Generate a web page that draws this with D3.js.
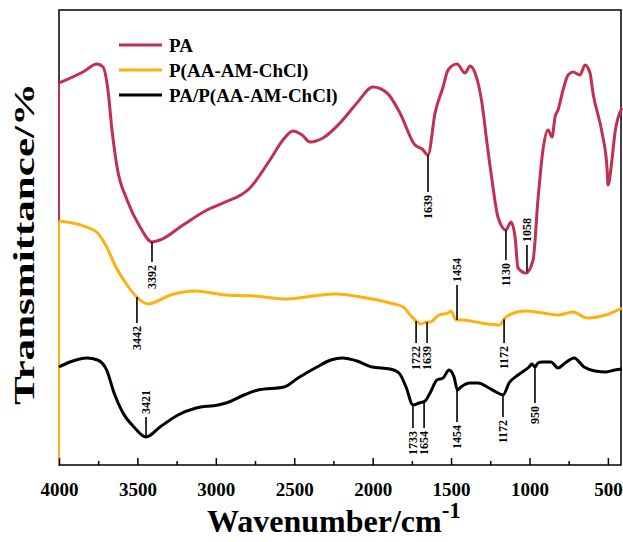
<!DOCTYPE html>
<html lang="en">
<head>
<meta charset="UTF-8"/>
<script src="https://d3js.org/d3.v7.min.js"></script>
<title>FTIR spectra</title>
<style>
  body { margin: 0; background: #fff; }
  svg { display: block; }
  .axis text { font-family: "Liberation Serif", "Times New Roman", serif; font-weight: bold; font-size: 19px; fill: #000; }
  .axis line { stroke: #000; stroke-width: 1.5; }
  .peak text { font-family: "Liberation Serif", "Times New Roman", serif; font-weight: bold; font-size: 12px; fill: #000; }
</style>
</head>
<body>
<script type="text/javascript">
// series names, shown in the legend
var seriesNames = ["PA", "P(AA-AM-ChCl)", "PA/P(AA-AM-ChCl)"];
var seriesColors = ["#c1304f", "#ffb00f", "#000000"];

// spectra: [wavenumber, transmittance (offset, arb. units)]
var paValues = [
  [4000,76.4],[3847,78.6],[3758,80.2],[3719,79.6],[3688,75.0],[3662,67.0],[3630,59.6],
  [3566,53.0],[3483,47.6],[3407,44.6],[3356,45.0],[3209,48.0],[3056,51.0],[2954,52.4],
  [2782,55.4],[2655,61.0],[2572,65.0],[2508,66.8],[2450,66.0],[2399,64.6],[2317,65.4],
  [2208,68.4],[2100,72.4],[1998,75.6],[1908,74.4],[1826,70.4],[1730,64.0],[1685,63.2],
  [1647,62.0],[1602,70.4],[1551,75.6],[1519,79.0],[1462,80.2],[1411,78.4],[1379,79.8],
  [1347,78.4],[1303,72.4],[1271,64.4],[1239,57.0],[1201,49.6],[1150,47.0],[1118,48.6],
  [1092,45.6],[1073,39.4],[1022,38.4],[977,41.0],[946,53.0],[914,63.0],[882,67.0],
  [856,65.6],[837,69.6],[818,71.0],[786,75.0],[754,78.0],[722,78.6],[678,78.0],
  [646,80.0],[614,78.4],[595,74.4],[537,66.4],[506,59.6],[499,56.0],[474,61.0],
  [455,66.4],[410,71.4]
];
var copolymerValues = [
  [4000,48.8],[3825,47.6],[3754,46.4],[3696,43.6],[3637,39.6],[3566,36.0],[3498,33.4],
  [3428,32.2],[3358,33.0],[3288,34.0],[3126,34.8],[2941,34.0],[2750,33.8],[2542,33.2],
  [2380,33.8],[2240,34.2],[2074,33.6],[1889,32.4],[1806,31.6],[1749,29.6],[1723,28.8],
  [1692,28.2],[1653,28.6],[1634,28.6],[1577,30.0],[1519,30.4],[1500,30.8],[1468,29.0],
  [1424,29.0],[1309,28.4],[1190,28.0],[1156,29.4],[1099,30.4],[1028,30.8],[914,30.4],
  [818,30.0],[722,30.6],[633,29.4],[512,30.0],[410,31.4]
];
var compositeValues = [
  [4000,19.6],[3930,20.6],[3821,21.4],[3754,21.0],[3696,19.0],[3649,14.4],[3592,10.4],
  [3522,7.6],[3445,5.6],[3356,7.6],[3241,10.0],[3126,11.4],[2986,12.0],[2916,12.6],
  [2820,14.0],[2731,15.0],[2565,15.6],[2476,17.4],[2355,19.6],[2266,21.0],[2195,21.4],
  [2100,20.8],[2004,19.6],[1889,19.2],[1832,18.4],[1787,15.6],[1743,12.0],[1704,12.4],
  [1666,12.8],[1634,14.4],[1590,17.0],[1551,17.4],[1513,19.0],[1481,17.6],[1459,15.0],
  [1437,15.6],[1379,16.4],[1328,16.4],[1258,15.4],[1213,14.6],[1169,14.0],[1130,16.4],
  [1073,18.0],[1003,19.6],[984,20.2],[965,19.6],[946,20.4],[920,20.6],[863,20.6],
  [818,19.4],[773,20.4],[716,21.4],[652,19.6],[582,18.8],[512,18.6],[455,19.0],[410,19.2]
];
var allSeries = [paValues, copolymerValues, compositeValues];

// peak labels: series index, label, wavenumber of the marker, end of the marker line, side of label
var peaks = [
  {s: 0, label: "3392", at: 3407, end: 40.6, side: "below"},
  {s: 0, label: "1639", at: 1647, end: 54.6, side: "below"},
  {s: 0, label: "1130", at: 1150, end: 41.0, side: "below"},
  {s: 0, label: "1058", at: 1016, end: 44.0, side: "above"},
  {s: 1, label: "3442", at: 3503, end: 28.4, side: "below"},
  {s: 1, label: "1722", at: 1723, end: 24.4, side: "below"},
  {s: 1, label: "1639", at: 1653, end: 24.4, side: "below"},
  {s: 1, label: "1454", at: 1462, end: 36.0, side: "above"},
  {s: 1, label: "1172", at: 1162, end: 24.4, side: "below"},
  {s: 2, label: "3421", at: 3445, end: 9.6, side: "above"},
  {s: 2, label: "1733", at: 1743, end: 7.4, side: "below"},
  {s: 2, label: "1654", at: 1672, end: 7.4, side: "below"},
  {s: 2, label: "1454", at: 1462, end: 8.6, side: "below"},
  {s: 2, label: "1172", at: 1169, end: 9.6, side: "below"},
  {s: 2, label: "950", at: 965, end: 12.4, side: "below"}
];

var xTicks = [4000, 3500, 3000, 2500, 2000, 1500, 1000, 500];
var xMinorTicks = [3750, 3250, 2750, 2250, 1750, 1250, 750];

var w = 623, h = 542;
var plotLeft = 59, plotRight = 621, plotTop = 10, plotBottom = 465;

var xScale = d3.scaleLinear().domain([4000, 410]).range([plotLeft, plotRight + 1]);
var yScale = d3.scaleLinear().domain([0, 91]).range([plotBottom, plotTop]);

var svg = d3.select("body").append("svg")
            .attr("width", w)
            .attr("height", h);

// frame
svg.append("rect")
   .attr("x", plotLeft).attr("y", plotTop)
   .attr("width", plotRight - plotLeft).attr("height", plotBottom - plotTop)
   .attr("fill", "none").attr("stroke", "#000").attr("stroke-width", 1.5);

// left edge gets covered by the spectra's start
svg.append("line")
   .attr("x1", plotLeft).attr("x2", plotLeft)
   .attr("y1", yScale(paValues[0][1])).attr("y2", yScale(copolymerValues[0][1]))
   .attr("stroke", seriesColors[0]).attr("stroke-width", 2);
svg.append("line")
   .attr("x1", plotLeft).attr("x2", plotLeft)
   .attr("y1", yScale(copolymerValues[0][1])).attr("y2", plotBottom)
   .attr("stroke", seriesColors[1]).attr("stroke-width", 2);

// axis with ticks pointing inward
var xAxis = d3.axisBottom(xScale).tickValues(xTicks).tickSize(-7).tickFormat(d3.format("d"));
var gx = svg.append("g")
   .attr("class", "axis")
   .attr("transform", "translate(0," + plotBottom + ")")
   .call(xAxis);
gx.select(".domain").remove();
gx.selectAll("text").attr("y", 31).attr("dy", null);

var gm = svg.append("g")
   .attr("class", "axis")
   .attr("transform", "translate(0," + plotBottom + ")")
   .call(d3.axisBottom(xScale).tickValues(xMinorTicks).tickSize(-4).tickFormat(""));
gm.select(".domain").remove();

// spectra
var line = d3.line()
   .x(function(d) { return xScale(d[0]); })
   .y(function(d) { return yScale(d[1]); })
   .curve(d3.curveMonotoneX);

svg.selectAll("path.spectrum")
   .data(allSeries)
   .enter()
   .append("path")
   .attr("class", "spectrum")
   .attr("d", line)
   .attr("fill", "none")
   .attr("stroke", function(d, i) { return seriesColors[i]; })
   .attr("stroke-width", 3)
   .attr("stroke-linejoin", "round");

// peak markers
var interp = allSeries.map(function(s) {
    return d3.scaleLinear().domain(s.map(function(d) { return d[0]; }))
                           .range(s.map(function(d) { return d[1]; }));
});

var pk = svg.selectAll("g.peak")
   .data(peaks)
   .enter()
   .append("g")
   .attr("class", "peak");

pk.append("line")
   .attr("x1", function(d) { return xScale(d.at); })
   .attr("x2", function(d) { return xScale(d.at); })
   .attr("y1", function(d) { return yScale(interp[d.s](d.at)); })
   .attr("y2", function(d) { return yScale(d.end); })
   .attr("stroke", "#000")
   .attr("stroke-width", 1.6);

pk.append("text")
   .attr("transform", function(d) {
       var y = yScale(d.end) + (d.side === "below" ? 3 : -3);
       return "translate(" + xScale(d.at) + "," + y + ") rotate(-90)";
   })
   .attr("text-anchor", function(d) { return d.side === "below" ? "end" : "start"; })
   .attr("dy", "0.35em")
   .text(function(d) { return d.label; });

// legend
var legend = svg.selectAll("g.legend")
   .data(seriesNames)
   .enter()
   .append("g")
   .attr("class", "legend")
   .attr("transform", function(d, i) { return "translate(119," + (45 + i * 25) + ")"; });

legend.append("line")
   .attr("x1", 0).attr("x2", 43)
   .attr("stroke", function(d, i) { return seriesColors[i]; })
   .attr("stroke-width", 3);

legend.append("text")
   .attr("x", 50).attr("y", 7)
   .style("font-family", "'Liberation Serif', 'Times New Roman', serif")
   .style("font-weight", "bold")
   .style("font-size", "19px")
   .text(function(d) { return d; });

// axis titles
var xTitle = svg.append("text")
   .attr("x", 207).attr("y", 532)
   .style("font-family", "'Liberation Serif', 'Times New Roman', serif")
   .style("font-weight", "bold")
   .style("font-size", "32px");
xTitle.append("tspan").text("Wavenumber/cm");
xTitle.append("tspan").attr("dy", -14).style("font-size", "23px").text("-1");

svg.append("text")
   .attr("transform", "translate(34,244) rotate(-90)")
   .attr("text-anchor", "middle")
   .attr("textLength", 322)
   .attr("lengthAdjust", "spacingAndGlyphs")
   .style("font-family", "'Liberation Serif', 'Times New Roman', serif")
   .style("font-weight", "bold")
   .style("font-size", "30px")
   .text("Transmittance/%");
</script>
</body>
</html>
